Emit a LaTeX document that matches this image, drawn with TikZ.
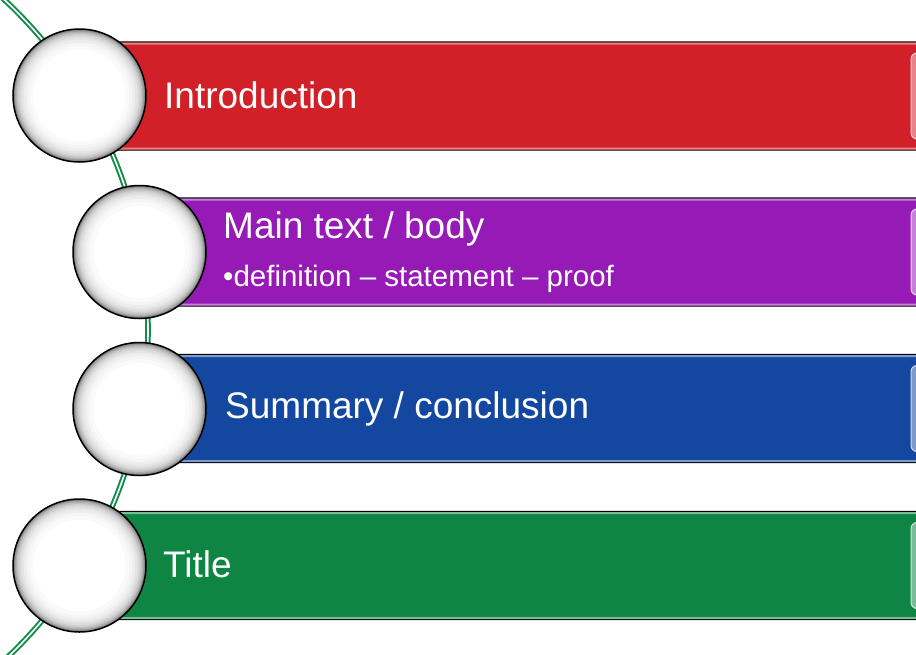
\documentclass[tikz,border=0pt]{standalone}
\usepackage{fontspec}
\setmainfont{Liberation Sans}
\usepackage{tikz}
\usepackage[usenames,dvipsnames]{xcolor}

\definecolor{introred}{RGB}{210,32,40}
\definecolor{bodypurple}{RGB}{150,26,182}
\definecolor{sumblue}{RGB}{20,72,160}
\definecolor{titlegreen}{RGB}{14,133,66}
\definecolor{trackgreen}{RGB}{20,140,78}

\begin{document}
\begin{tikzpicture}[x=1pt, y=-1pt]
    \tikzset{disc/.style = {shape=circle, draw, line width=1.5pt, fill=white, minimum size=133pt, inner sep=0pt,
        path picture={\foreach \r/\s in {67/62,66/50,65/40,64/32,63/25,61.5/19,60/14,58/10,56/7,53/4,50/2,46/0}
            {\fill[black!\s!white] (path picture bounding box.center) circle[radius=\r pt];}}}}
    \tikzset{bar/.style = {shape=rectangle, draw, line width=1.4pt, rounded corners=3pt, minimum height=108pt, inner sep=0pt}}
    \tikzset{rim/.style = {shape=rectangle, line width=2pt, rounded corners=2pt, minimum height=105pt, inner sep=0pt}}
    \tikzset{glint/.style = {shape=rectangle, line width=1pt, rounded corners=6pt, minimum width=48pt, minimum height=86pt, inner sep=0pt}}
    \tikzset{track/.style = {draw=trackgreen, line width=2pt, double=white, double distance=1.6pt}}
    \tikzset{caption/.style = {text=white, inner sep=0pt, anchor=base west, font=\fontsize{37}{41}\selectfont}}
    \tikzset{subcaption/.style = {caption, font=\fontsize{29.5}{34}\selectfont}}

    \useasboundingbox (0,0) rectangle (916,654);
    \clip (0,0) rectangle (916,654);

    % green track behind everything
    \coordinate (hub) at (-303.5,330);
    \draw[track] (hub) circle[radius=451.5pt];

    % bars
    \node[bar, minimum width=880pt, fill=introred] (b1) at (520,96) {};
    \node[rim, minimum width=877pt, draw=introred!55!white] (r1) at (b1) {};
    \node[glint, fill=introred!55!white, draw=introred!20!white] (g1) at (935,96) {};

    \node[bar, minimum width=820pt, fill=bodypurple] (b2) at (550,252) {};
    \node[rim, minimum width=817pt, draw=bodypurple!55!white] (r2) at (b2) {};
    \node[glint, fill=bodypurple!55!white, draw=bodypurple!20!white] (g2) at (935,252) {};

    \node[bar, minimum width=820pt, fill=sumblue] (b3) at (550,408.5) {};
    \node[rim, minimum width=817pt, draw=sumblue!55!white] (r3) at (b3) {};
    \node[glint, fill=sumblue!55!white, draw=sumblue!20!white] (g3) at (935,408.5) {};

    \node[bar, minimum width=880pt, fill=titlegreen] (b4) at (520,565.5) {};
    \node[rim, minimum width=877pt, draw=titlegreen!55!white] (r4) at (b4) {};
    \node[glint, fill=titlegreen!55!white, draw=titlegreen!20!white] (g4) at (935,565.5) {};

    % discs
    \node[disc] (d1) at (79.5,95.5) {};
    \node[disc] (d2) at (139.5,252) {};
    \node[disc] (d3) at (139.5,409) {};
    \node[disc] (d4) at (79.5,565.5) {};

    % labels
    \node[caption] (t1) at (164,108) {Introduction};
    \node[caption] (t2) at (223,238) {Main text / body};
    \node[subcaption] (t2s) at (223,286) {•definition – statement – proof};
    \node[caption] (t3) at (225,418) {Summary / conclusion};
    \node[caption] (t4) at (163,577) {Title};
\end{tikzpicture}
\end{document}
